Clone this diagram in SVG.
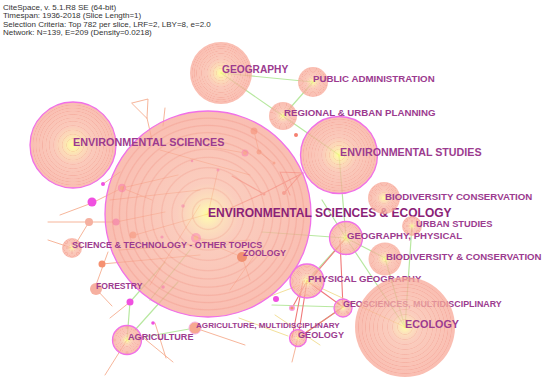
<svg xmlns="http://www.w3.org/2000/svg" width="550" height="383" viewBox="0 0 550 383">
<defs>
<radialGradient id="ng">
<stop offset="0" stop-color="#ffff70"/>
<stop offset="0.08" stop-color="#fdf090"/>
<stop offset="0.25" stop-color="#fbd0a0"/>
<stop offset="0.45" stop-color="#f9b8a4"/>
<stop offset="1" stop-color="#f8a898"/>
</radialGradient>
<radialGradient id="ngb">
<stop offset="0" stop-color="#fff870"/>
<stop offset="0.05" stop-color="#fdf09a"/>
<stop offset="0.14" stop-color="#fbd6a6"/>
<stop offset="0.3" stop-color="#f9bca8"/>
<stop offset="1" stop-color="#f8a898"/>
</radialGradient>
<radialGradient id="rg">
<stop offset="0.138" stop-color="#e87868" stop-opacity="0"/><stop offset="0.15" stop-color="#e87868" stop-opacity="0.2"/><stop offset="0.162" stop-color="#e87868" stop-opacity="0"/>
<stop offset="0.238" stop-color="#e87868" stop-opacity="0"/><stop offset="0.25" stop-color="#e87868" stop-opacity="0.2"/><stop offset="0.262" stop-color="#e87868" stop-opacity="0"/>
<stop offset="0.338" stop-color="#e87868" stop-opacity="0"/><stop offset="0.35" stop-color="#e87868" stop-opacity="0.2"/><stop offset="0.362" stop-color="#e87868" stop-opacity="0"/>
<stop offset="0.438" stop-color="#e87868" stop-opacity="0"/><stop offset="0.45" stop-color="#e87868" stop-opacity="0.22"/><stop offset="0.462" stop-color="#e87868" stop-opacity="0"/>
<stop offset="0.538" stop-color="#e87868" stop-opacity="0"/><stop offset="0.55" stop-color="#e87868" stop-opacity="0.22"/><stop offset="0.562" stop-color="#e87868" stop-opacity="0"/>
<stop offset="0.618" stop-color="#e87868" stop-opacity="0"/><stop offset="0.63" stop-color="#e87868" stop-opacity="0.22"/><stop offset="0.642" stop-color="#e87868" stop-opacity="0"/>
<stop offset="0.698" stop-color="#e87868" stop-opacity="0"/><stop offset="0.71" stop-color="#e87868" stop-opacity="0.24"/><stop offset="0.722" stop-color="#e87868" stop-opacity="0"/>
<stop offset="0.778" stop-color="#e87868" stop-opacity="0"/><stop offset="0.79" stop-color="#e87868" stop-opacity="0.24"/><stop offset="0.802" stop-color="#e87868" stop-opacity="0"/>
<stop offset="0.848" stop-color="#e87868" stop-opacity="0"/><stop offset="0.86" stop-color="#e87868" stop-opacity="0.24"/><stop offset="0.872" stop-color="#e87868" stop-opacity="0"/>
<stop offset="0.918" stop-color="#e87868" stop-opacity="0"/><stop offset="0.93" stop-color="#e87868" stop-opacity="0.24"/><stop offset="0.942" stop-color="#e87868" stop-opacity="0"/>
</radialGradient>
<style>
.hdr{font-family:"Liberation Sans",Arial,sans-serif;font-size:8px;fill:#333}
.base{fill:url(#ng);fill-opacity:0.75}
.big{fill:url(#ngb)}
.ring{fill:url(#rg)}
.mg{stroke:#f070e8;stroke-width:1.3}
.lbl{font-family:"Liberation Sans",Arial,sans-serif;font-weight:bold;fill:#9c3b8f}
.dm{fill:#f050e0}
.do{fill:#f59070}
.edges path{fill:none;stroke-linecap:round}
.g{stroke:#b8e8a0;stroke-width:1.2}
.o{stroke:#f5a888;stroke-width:1;stroke-opacity:0.85}
.r{stroke:#f07878;stroke-width:1.1}
.y{stroke:#f3e09a;stroke-width:1}
</style>
</defs>
<rect width="550" height="383" fill="#ffffff"/>
<g id="header">
<text class="hdr" x="3" y="10">CiteSpace, v. 5.1.R8 SE (64-bit)</text>
<text class="hdr" x="3" y="18.4">Timespan: 1936-2018 (Slice Length=1)</text>
<text class="hdr" x="3" y="26.8">Selection Criteria: Top 782 per slice, LRF=2, LBY=8, e=2.0</text>
<text class="hdr" x="3" y="35.2">Network: N=139, E=209 (Density=0.0218)</text>
</g>
<g id="edges" class="edges">
<path class="g" d="M221,73 L313,82"/>
<path class="g" d="M313,82 L283,116"/>
<path class="g" d="M221,73 L283,116"/>
<path class="g" d="M283,116 L339,155"/>
<path class="g" d="M339,155 L346,238"/>
<path class="g" d="M346,238 L385,258"/>
<path class="g" d="M346,238 L405,327"/>
<path class="g" d="M412,225 L405,327"/>
<path class="g" d="M385,258 L405,327"/>
<path class="g" d="M307,281 L346,238"/>
<path class="g" d="M262,232 L346,238"/>
<path class="g" d="M272,305 L343,307"/>
<path class="g" d="M322,200 L346,238"/>
<path class="g" d="M127,340 L130,302 L165,262"/>
<path class="g" d="M135,330 L178,282"/>
<path class="g" d="M127,340 L195,328"/>
<path class="g" d="M298,338 L343,307"/>
<path class="g" d="M150,300 L190,250"/>
<path class="r" d="M307,281 L343,307"/>
<path class="r" d="M346,238 L310,280"/>
<path class="r" d="M340,240 L343,307"/>
<path class="r" d="M307,281 L298,338"/>
<path class="r" d="M303,281 L292,338"/>
<path class="r" d="M307,281 L292,308"/>
<path class="r" d="M343,307 L298,338"/>
<path class="r" d="M262,194 L303,173" stroke-width="2"/>
<path class="r" d="M280,172 L290,195 M280,172 L303,173"/>
<path class="r" d="M264,194 L232,176"/>
<path class="r" d="M284,193 L300,175"/>
<path class="r" d="M222,212 L262,194"/>
<path class="o" d="M92,203 L122,188"/>
<path class="o" d="M92,203 L60,215"/>
<path class="o" d="M48,222 L116,222"/>
<path class="o" d="M89,222 L75,245"/>
<path class="o" d="M116,222 L165,212"/>
<path class="o" d="M122,188 L178,175"/>
<path class="o" d="M122,188 L152,200"/>
<path class="o" d="M132,103 L148,99 L147,118 Z"/>
<path class="o" d="M147,118 L152,140"/>
<path class="o" d="M165,108 L163,126"/>
<path class="o" d="M103,184 L120,172"/>
<path class="o" d="M102,264 L200,255"/>
<path class="o" d="M108,252 L96,285"/>
<path class="o" d="M96,289 L112,306"/>
<path class="o" d="M130,302 L110,318"/>
<path class="o" d="M127,340 L105,375"/>
<path class="o" d="M140,335 L173,362"/>
<path class="o" d="M155,323 L166,358"/>
<path class="o" d="M195,328 L245,345" stroke-width="1.6"/>
<path class="o" d="M242,257 L250,280"/>
<path class="o" d="M298,338 L292,362"/>
<path class="o" d="M254,131 L259,152 L274,163"/>
<path class="o" d="M245,153 L205,146"/>
<path class="o" d="M72,248 L48,240"/>
<path class="o" d="M120,250 L250,240"/>
<path class="o" d="M150,285 L200,205"/>
<path class="o" d="M135,235 L208,214"/>
<path class="o" d="M196,238 L242,257"/>
<path class="o" d="M218,170 L208,214"/>
<path class="o" d="M230,290 L262,245"/>
<path class="o" d="M110,200 L200,190"/>
<path class="o" d="M160,150 L250,175"/>
<path class="y" d="M405,327 L310,283"/>
<path class="y" d="M275,315 L320,345"/>
<path class="y" d="M260,300 L300,285"/>
<path class="y" d="M239,318 L288,336"/>
</g>
<g id="dots">
<circle class="dm" cx="92" cy="202" r="4.5"/>
<circle class="dm" cx="116" cy="222" r="3.5"/>
<circle cx="122" cy="188" r="4.2" fill="#ff66ee"/><circle cx="122" cy="188" r="2.2" fill="#f59070"/>
<circle class="dm" cx="103" cy="184" r="2"/>
<circle class="dm" cx="130" cy="302" r="3.5"/>
<circle cx="245" cy="153" r="3.5" fill="#ff66ee"/><circle cx="245" cy="153" r="2" fill="#f59070"/>
<circle cx="196" cy="238" r="5" fill="#ff55ee"/><circle cx="196" cy="238" r="2.5" fill="#f8a070"/>
<circle class="dm" cx="276" cy="299" r="3"/>
<circle cx="292" cy="308" r="3" fill="#f8a0e0"/><circle cx="292" cy="308" r="1.6" fill="#f59070"/>
<circle class="dm" cx="153" cy="323" r="1.8"/>
<circle class="dm" cx="183" cy="206" r="1.8"/>
<circle class="dm" cx="162" cy="237" r="1.6"/>
<circle class="dm" cx="163" cy="287" r="1.8"/>
<circle class="dm" cx="218" cy="170" r="1.5"/>
<circle class="dm" cx="192" cy="161" r="1.3"/>
<circle class="do" cx="254" cy="131" r="3.5"/>
<circle class="do" cx="259" cy="152" r="2.5"/>
<circle class="do" cx="274" cy="163" r="1.5"/>
<circle class="do" cx="133" cy="235" r="3.5"/>
<circle cx="89" cy="222" r="4" fill="#f5b0a0"/>
<circle class="do" cx="102" cy="264" r="3.5"/>
<circle cx="284" cy="193" r="2" fill="#f07070"/>
<circle cx="296" cy="135" r="2" fill="#f58070"/>
<circle cx="264" cy="194" r="1.5" fill="#f07070"/>
</g>
<g id="n-eseco"><circle class="base big mg" cx="208" cy="214" r="103"/><circle class="ring" cx="208" cy="214" r="103"/>
<text class="lbl" x="208" y="216.5" font-size="12" style="fill:#8a2277">ENVIRONMENTAL SCIENCES &amp; ECOLOGY</text></g>
<g id="n-envsci"><circle class="base mg" cx="73" cy="145" r="43"/><circle class="ring" cx="73" cy="145" r="43"/>
<text class="lbl" x="73" y="146" font-size="10.8">ENVIRONMENTAL SCIENCES</text></g>
<g id="n-geography"><circle class="base" cx="221" cy="73" r="31"/><circle class="ring" cx="221" cy="73" r="31"/>
<text class="lbl" x="222" y="73.3" font-size="10.2">GEOGRAPHY</text></g>
<g id="n-pubadm"><circle class="base" cx="313" cy="82" r="15"/><circle class="ring" cx="313" cy="82" r="15"/>
<text class="lbl" x="313" y="82.4" font-size="9.7">PUBLIC ADMINISTRATION</text></g>
<g id="n-regional"><circle class="base" cx="283" cy="116" r="14"/><circle class="ring" cx="283" cy="116" r="14"/>
<text class="lbl" x="284" y="116.4" font-size="9.7">REGIONAL &amp; URBAN PLANNING</text></g>
<g id="n-envstud"><circle class="base mg" cx="339" cy="155" r="38.5"/><circle class="ring" cx="339" cy="155" r="38.5"/>
<text class="lbl" x="340" y="156" font-size="10.7">ENVIRONMENTAL STUDIES</text></g>
<g id="n-biocons"><circle class="base" cx="384" cy="198" r="16"/><circle class="ring" cx="384" cy="198" r="16"/>
<text class="lbl" x="385" y="199.5" font-size="9.7">BIODIVERSITY CONSERVATION</text></g>
<g id="n-urban"><circle class="base" cx="412" cy="226" r="10"/><circle class="ring" cx="412" cy="226" r="10"/>
<text class="lbl" x="416" y="227.3" font-size="9.3">URBAN STUDIES</text></g>
<g id="n-geophys"><circle class="base mg" cx="346" cy="238" r="16.5"/><circle class="ring" cx="346" cy="238" r="16.5"/>
<text class="lbl" x="347" y="238.5" font-size="9.6">GEOGRAPHY, PHYSICAL</text></g>
<g id="n-biodiv"><circle class="base" cx="385" cy="259" r="16.5"/><circle class="ring" cx="385" cy="259" r="16.5"/>
<text class="lbl" x="386" y="259.5" font-size="9.6">BIODIVERSITY &amp; CONSERVATION</text></g>
<g id="n-physgeo"><circle class="base mg" cx="307" cy="281" r="17"/><circle class="ring" cx="307" cy="281" r="17"/>
<text class="lbl" x="308" y="281.5" font-size="9.6">PHYSICAL GEOGRAPHY</text></g>
<g id="n-geosci"><circle class="base mg" cx="343" cy="308" r="9"/><circle class="ring" cx="343" cy="308" r="9"/>
<text class="lbl" x="343" y="307.3" font-size="8.9">GEOSCIENCES, MULTIDISCIPLINARY</text></g>
<g id="n-ecology"><circle class="base big" cx="405" cy="327" r="50"/><circle class="ring" cx="405" cy="327" r="50"/>
<text class="lbl" x="405" y="327.8" font-size="10.8">ECOLOGY</text></g>
<g id="n-geology"><circle class="base mg" cx="298" cy="338" r="8.5"/><circle class="ring" cx="298" cy="338" r="8.5"/>
<text class="lbl" x="298" y="338.3" font-size="9.1">GEOLOGY</text></g>
<g id="n-agrimulti"><circle cx="195" cy="328" r="6" fill="#f6a890" stroke="#f8b0e0" stroke-width="1"/>
<text class="lbl" x="196" y="328" font-size="8.1">AGRICULTURE, MULTIDISCIPLINARY</text></g>
<g id="n-agri"><circle class="base mg" cx="127" cy="340" r="14.5"/><circle class="ring" cx="127" cy="340" r="14.5"/>
<text class="lbl" x="128" y="340.3" font-size="9.1">AGRICULTURE</text></g>
<g id="n-forestry"><circle cx="96" cy="289" r="6" fill="#f6b0a0"/>
<text class="lbl" x="96" y="289.1" font-size="8.6">FORESTRY</text></g>
<g id="n-scitech"><circle class="base" cx="72" cy="248" r="10"/><circle class="ring" cx="72" cy="248" r="10"/>
<text class="lbl" x="72" y="248.2" font-size="9">SCIENCE &amp; TECHNOLOGY - OTHER TOPICS</text></g>
<g id="n-zoology"><circle cx="242" cy="257" r="5" fill="#f09070"/>
<text class="lbl" x="243" y="256.2" font-size="8.6">ZOOLOGY</text></g>
</svg>
